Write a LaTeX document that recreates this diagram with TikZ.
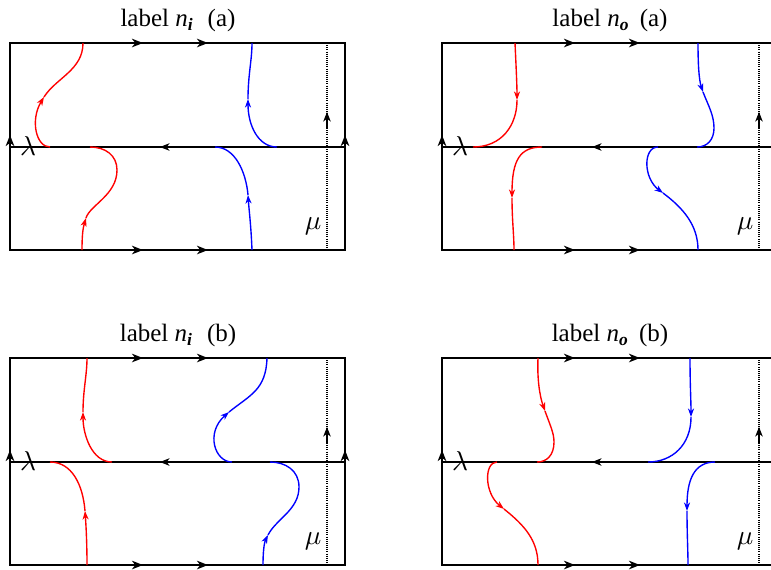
\documentclass[tikz,border=0pt]{standalone}
\usepackage{fontspec}
\setmainfont{Liberation Serif}
\usetikzlibrary{arrows.meta}
\tikzset{
  x=0.4pt, y=-0.4pt,
  frame/.style={line width=0.8pt, line cap=rect},
  midline/.style={line width=0.45pt},
  bnd/.style={-{Stealth[length=4.4pt,width=3.4pt,inset=1.3pt]}},
  bndsmall/.style={-{Stealth[length=3.8pt,width=3pt,inset=1.1pt]}},
  carrow/.style={-{Stealth[length=3.4pt,width=2.4pt,inset=1pt]}},
  redc/.style={red, line width=0.55pt},
  bluec/.style={blue, line width=0.55pt},
  dotline/.style={line width=0.5pt, dash pattern=on 0.4pt off 0.45pt},
  ttl/.style={font=\fontsize{10}{12}\selectfont, inner sep=0pt},
  sym/.style={font=\fontsize{11}{13}\selectfont, inner sep=0pt},
}
\newcommand\SubLbl[1]{\raisebox{-0.4ex}{\fontsize{7}{8}\selectfont\bfseries\itshape #1}}
\newcommand\PanelFrame[2]{%
  \draw[frame] (10,43) rectangle (345,250);
  \draw[midline] (10,147) -- (345,147);
  \draw[frame,bnd] (60,43) -- (143,43);
  \draw[frame,bnd] (160,43) -- (208,43);
  \draw[frame,bnd] (60,250) -- (143,250);
  \draw[frame,bnd] (160,250) -- (208,250);
  \draw[midline,bndsmall] (200,147) -- (160,147);
  \draw[frame,bnd] (10,170) -- (10,135);
  \draw[frame,bnd] (345,170) -- (345,135);
  \draw[dotline] (327,43) -- (327,250);
  \draw[line width=0.45pt, bndsmall] (327,128) -- (327,112);
  \node[ttl] (#1t) at (178,20) {#2};
  \node[sym] (#1l) at (28,146) {$\lambda$};
  \node[sym] (#1m) at (313,226) {$\mu$};
}
\begin{document}
\begin{tikzpicture}
\useasboundingbox (0,0) rectangle (771,569);
\clip (0,0) rectangle (771,569);

% panel n_i (a)
\begin{scope}
\PanelFrame{pa}{label \textit{n}\SubLbl{i}\hspace{0.35em} (a)}
\draw[redc,carrow] (50,147) .. controls (36,147) and (30,120) .. (44,97);
\draw[redc] (44,97) .. controls (56,78) and (83,70) .. (83,43);
\draw[redc,carrow] (82,250) .. controls (82,235) and (83,228) .. (86,218);
\draw[redc] (86,218) .. controls (90,205) and (117,195) .. (117,170) .. controls (117,155) and (105,147) .. (90,147);
\draw[bluec,carrow] (277,147) .. controls (258,147) and (248,125) .. (248,99);
\draw[bluec] (248,99) .. controls (248,75) and (252,60) .. (252,43);
\draw[bluec,carrow] (252,250) .. controls (251,225) and (249,210) .. (248,195);
\draw[bluec] (248,195) .. controls (246,172) and (235,147) .. (215,147);
\end{scope}

% panel n_o (a)
\begin{scope}[shift={(432,0)}]
\PanelFrame{pb}{label \textit{n}\SubLbl{o}\hspace{0.2em} (a)}
\draw[redc,carrow] (83,43) .. controls (84,65) and (85,85) .. (85,100);
\draw[redc] (85,100) .. controls (85,125) and (70,147) .. (41,147);
\draw[redc,carrow] (110,147) .. controls (88,147) and (80,160) .. (80,198);
\draw[redc] (80,198) .. controls (80,220) and (82,235) .. (82,250);
\draw[bluec,carrow] (266,43) .. controls (266,65) and (267,80) .. (271,92);
\draw[bluec] (271,92) .. controls (276,105) and (282,115) .. (282,128) .. controls (282,140) and (275,147) .. (265,147);
\draw[bluec,carrow] (226,147) .. controls (211,147) and (211,178) .. (231,193);
\draw[bluec] (231,193) .. controls (251,208) and (266,225) .. (266,250);
\end{scope}

% panel n_i (b)
\begin{scope}[shift={(0,315)}]
\PanelFrame{pc}{label \textit{n}\SubLbl{i}\hspace{0.35em} (b)}
\draw[redc,carrow] (112,147) .. controls (92,147) and (83,120) .. (83,97);
\draw[redc] (83,97) .. controls (83,75) and (87,60) .. (87,43);
\draw[redc,carrow] (87,250) .. controls (87,228) and (86,210) .. (85,196);
\draw[redc] (85,196) .. controls (83,170) and (72,147) .. (50,147);
\draw[bluec,carrow] (232,147) .. controls (215,147) and (205,118) .. (229,97);
\draw[bluec] (229,97) .. controls (250,80) and (266,75) .. (267,43);
\draw[bluec,carrow] (263,250) .. controls (263,238) and (264,228) .. (268,220);
\draw[bluec] (268,220) .. controls (276,204) and (299,195) .. (299,172) .. controls (299,155) and (285,147) .. (270,147);
\end{scope}

% panel n_o (b)
\begin{scope}[shift={(432,315)}]
\PanelFrame{pd}{label \textit{n}\SubLbl{o}\hspace{0.2em} (b)}
\draw[redc,carrow] (106,43) .. controls (105,65) and (108,82) .. (113,96);
\draw[redc] (113,96) .. controls (118,110) and (122,118) .. (122,127) .. controls (122,140) and (115,147) .. (105,147);
\draw[redc,carrow] (65,147) .. controls (52,147) and (52,178) .. (72,194);
\draw[redc] (72,194) .. controls (92,210) and (106,225) .. (106,250);
\draw[bluec,carrow] (258,43) .. controls (258,70) and (259,85) .. (259,102);
\draw[bluec] (259,102) .. controls (259,130) and (240,147) .. (216,147);
\draw[bluec,carrow] (283,147) .. controls (262,147) and (255,165) .. (255,196);
\draw[bluec] (255,196) .. controls (255,220) and (256,235) .. (256,250);
\end{scope}
\end{tikzpicture}
\end{document}
